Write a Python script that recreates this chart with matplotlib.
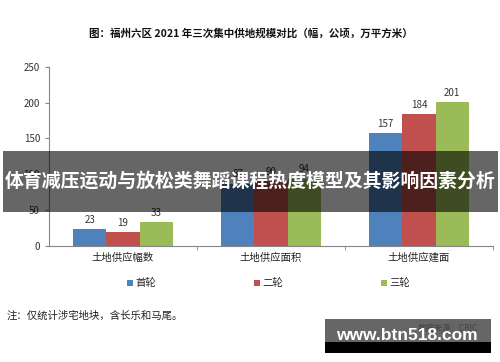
import matplotlib
matplotlib.use("Agg")
import matplotlib.pyplot as plt
import numpy as np
from matplotlib.patches import Rectangle

plt.rcParams['font.family'] = ['Noto Sans CJK SC', 'DejaVu Sans']

# data
categories = ["土地供应幅数", "土地供应面积", "土地供应建面"]
rounds = ["首轮", "二轮", "三轮"]
first = [23, 87, 157]
second = [19, 90, 184]
third = [33, 94, 201]
colors = ["#4F81BD", "#C0504D", "#9BBB59"]
yticks = [0, 50, 100, 150, 200, 250]

title = "图：福州六区 2021 年三次集中供地规模对比（幅，公顷，万平方米）"
note = "注：仅统计涉宅地块，含长乐和马尾。"
banner = "体育减压运动与放松类舞蹈课程热度模型及其影响因素分析"

W, H = 500, 362
fig = plt.figure(figsize=(W / 100, H / 100), dpi=100)

def px(x0, y0, x1, y1):
    # pixel box (top-left origin) -> figure fraction rect
    return [x0 / W, 1 - y1 / H, (x1 - x0) / W, (y1 - y0) / H]

ax = fig.add_axes(px(49, 67, 493, 245.7))

x = np.arange(len(categories))
w = 0.225
for i, (vals, c) in enumerate(zip([first, second, third], colors)):
    bars = ax.bar(x + (i - 1) * w, vals, w, color=c, label=rounds[i])
    for b, v in zip(bars, vals):
        ax.text(b.get_x() + b.get_width() / 2, v + 6, str(v),
                ha="center", va="bottom", fontsize=7, color="#333333")

ax.set_xlim(-0.5, 2.5)
ax.set_ylim(0, 250)
ax.set_yticks(yticks)
ax.tick_params(axis="y", labelsize=7, colors="#868686", labelcolor="#333333",
               length=3, direction="out")
ax.set_xticks(x)
ax.set_xticklabels(categories, fontsize=7.5, color="#222222")
ax.tick_params(axis="x", length=0, pad=5)
ax.set_xticks([0.5, 1.5, 2.5], minor=True)
ax.tick_params(axis="x", which="minor", length=3, colors="#868686")
for s in ["top", "right"]:
    ax.spines[s].set_visible(False)
for s in ["left", "bottom"]:
    ax.spines[s].set_color("#868686")
    ax.spines[s].set_linewidth(0.8)

fig.text(0.502, 1 - 33 / H, title, ha="center", va="center",
         fontsize=7.6, fontweight="bold", color="#111111")

# legend spread across
for i, (r, c) in enumerate(zip(rounds, colors)):
    lx = [127, 254, 381][i]
    fig.patches.append(Rectangle((lx / W, 1 - 286 / H), 6 / W, 6 / H,
                                 transform=fig.transFigure, color=c, lw=0))
    fig.text((lx + 8) / W, 1 - 283 / H, r, ha="left", va="center",
             fontsize=7.5, color="#222222")

fig.text(7 / W, 1 - 316 / H, note, ha="left", va="center",
         fontsize=7.5, color="#222222")

# dark banner over the chart
fig.patches.append(Rectangle((3 / W, 1 - 212 / H), 495 / W, 61 / H,
                             transform=fig.transFigure, facecolor="black",
                             lw=0, alpha=0.6, zorder=5))
fig.text(0.5, 1 - 181 / H, banner, ha="center", va="center", fontsize=13.6,
         fontweight="bold", color="white", zorder=6)

# watermark box
fig.patches.append(Rectangle((325 / W, 1 - 342 / H), 166 / W, 23 / H,
                             transform=fig.transFigure, facecolor="#666666",
                             lw=0, zorder=5))
fig.patches.append(Rectangle((325 / W, 1 - 353 / H), 166 / W, 11 / H,
                             transform=fig.transFigure, facecolor="black",
                             lw=0, zorder=5))
fig.text(478 / W, 1 - 329 / H, "数据来源：CRIC", ha="right", va="center",
         fontsize=6, color="#444444", zorder=6)
fig.text(407 / W, 1 - 336 / H, "www.btn518.com", ha="center", va="center",
         fontsize=12.5, fontweight="bold", color="white",
         family="Liberation Sans", zorder=7)

fig.savefig("out.png", dpi=100, facecolor="white")
